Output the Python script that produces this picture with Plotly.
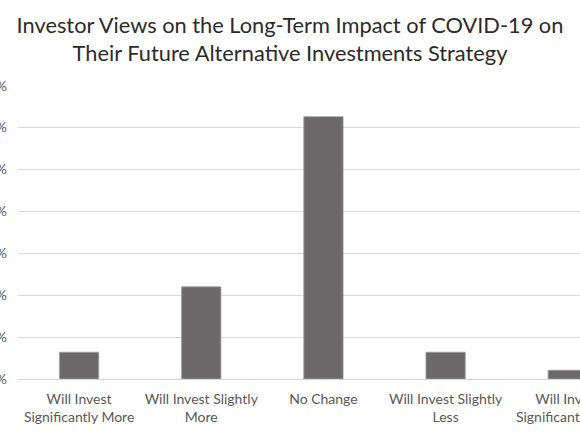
import plotly.graph_objects as go

# Data
categories = [
    "Will Invest<br>Significantly More",
    "Will Invest Slightly<br>More",
    "No Change",
    "Will Invest Slightly<br>Less",
    "Will Invest<br>Significantly Less",
]
shares = [0.064, 0.220, 0.626, 0.064, 0.021]
y_ticks = [0, 0.1, 0.2, 0.3, 0.4, 0.5, 0.6, 0.7]

title_text = ("Investor Views on the Long-Term Impact of COVID-19 on<br>"
              "Their Future Alternative Investments Strategy")

fig = go.Figure(
    go.Bar(
        x=categories,
        y=shares,
        marker=dict(color="#6b6969", line=dict(color="#a3a3a3", width=0.8)),
        width=0.322,
    )
)

# the original picture is a crop: the axis labels start off the left edge
# and the plot runs past the right edge
fig.update_layout(
    width=580,
    height=435,
    margin=dict(l=18, r=0, t=85, b=56, autoexpand=False),
    plot_bgcolor="white",
    paper_bgcolor="white",
    font=dict(family="Lato", size=14, color="#595959"),
    title=dict(
        text=title_text,
        x=0.5,
        xanchor="center",
        y=1 - 33 / 435,
        yanchor="top",
        font=dict(family="Lato", size=21.8, color="#2b2b2b"),
    ),
    showlegend=False,
)

fig.update_xaxes(
    type="category",
    range=[-0.5, 4.1],
    automargin=False,
    showgrid=False,
    showline=True,
    linecolor="#d4d4d4",
    linewidth=1,
    ticks="",
    ticklabelstandoff=7,
    tickfont=dict(size=14, color="#595959"),
)

fig.update_yaxes(
    range=[0, 0.7015],
    tickvals=y_ticks,
    tickformat=".0%",
    automargin=False,
    showgrid=True,
    gridcolor="#d9d9d9",
    gridwidth=1,
    zeroline=False,
    ticks="",
    ticklabelstandoff=10,
    tickfont=dict(size=14, color="#595959"),
)

# drop the default 8px page margin so the figure sits at the window corner
fig.write_html(
    "out.html",
    config={"displayModeBar": False},
    post_script="document.body.style.margin = '0';",
)
